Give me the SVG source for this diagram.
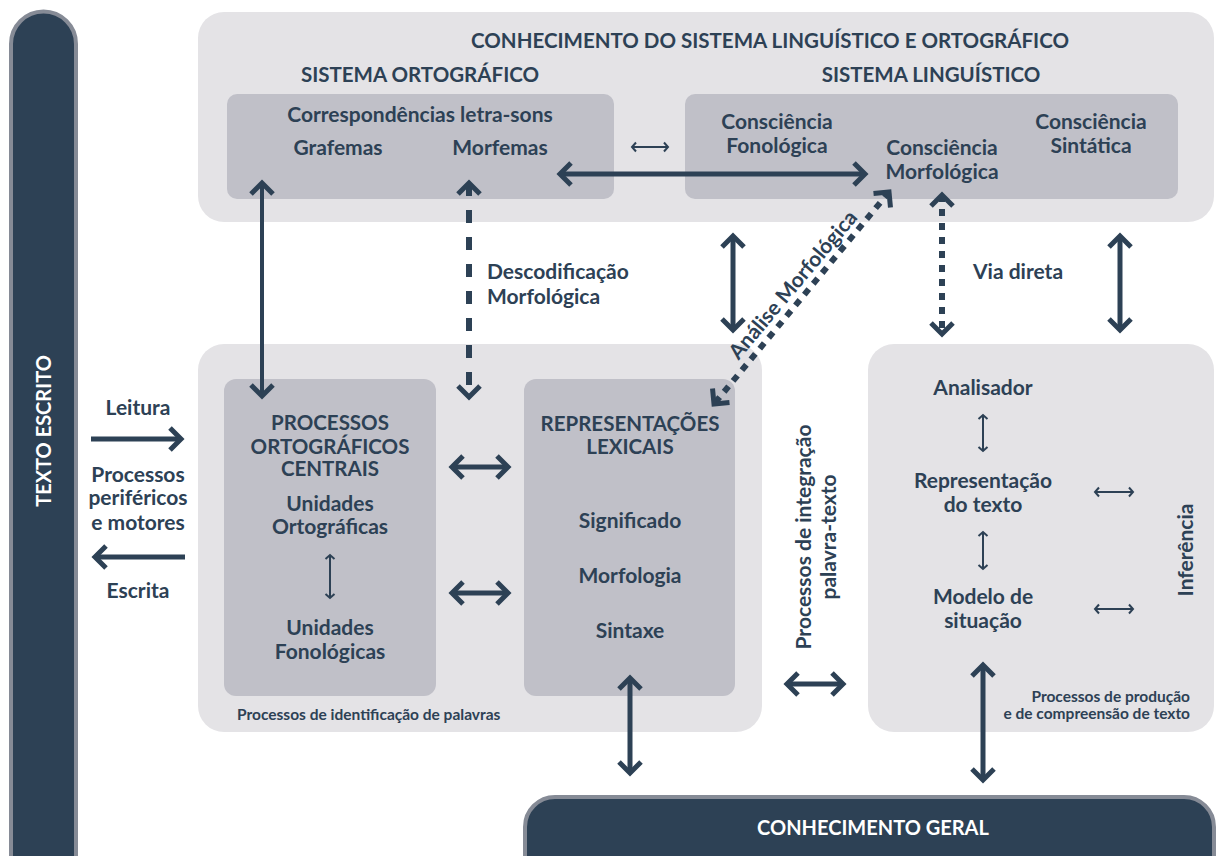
<svg xmlns="http://www.w3.org/2000/svg" width="1216" height="856" viewBox="0 0 1216 856">
<style>
text{font-family:Lato,"Open Sans","Liberation Sans",sans-serif;font-weight:700;fill:#2d4155;text-anchor:middle}
.t{font-size:21px}
.h{font-size:20.5px}
.s{font-size:15.5px}
.w{fill:#ffffff;font-size:20px}
.bg{fill:#e4e3e6}
.in{fill:#c0c0c8}
.dark{fill:#2d4155;stroke:#868b96;stroke-width:4}
.a5{fill:none;stroke:#2d4155;stroke-width:5;marker-start:url(#hb);marker-end:url(#hb)}
.a1{fill:none;stroke:#2d4155;stroke-width:5;marker-end:url(#hb)}
.a4{fill:none;stroke:#2d4155;stroke-width:4;marker-start:url(#hb);marker-end:url(#hb)}
.sm{fill:none;stroke:#2d4155;stroke-width:2;marker-start:url(#hs);marker-end:url(#hs)}
.dash{fill:none;stroke:#2d4155;stroke-width:6;stroke-dasharray:13 14;marker-start:url(#hb);marker-end:url(#hb)}
.dot{fill:none;stroke:#2d4155;stroke-width:6;stroke-dasharray:7 7;marker-start:url(#hb);marker-end:url(#hb)}
</style>
<defs>
<marker id="hb" viewBox="-16 -16 32 32" markerWidth="32" markerHeight="32" markerUnits="userSpaceOnUse" refX="0" refY="0" orient="auto-start-reverse">
<path d="M-11,-11 L0,0 L-11,11" fill="none" stroke="#2d4155" stroke-width="5"/>
</marker>
<marker id="hs" viewBox="-8 -8 16 16" markerWidth="16" markerHeight="16" markerUnits="userSpaceOnUse" refX="0" refY="0" orient="auto-start-reverse">
<path d="M-4,-4.5 L0,0 L-4,4.5" fill="none" stroke="#2d4155" stroke-width="2"/>
</marker>
</defs>

<g id="texto-escrito">
<path class="dark" d="M11,900 V44 A32.5,32.5 0 0 1 76,44 V900 Z"/>
<text class="w" transform="translate(51,431) rotate(-90)">TEXTO ESCRITO</text>
</g>

<g id="conhecimento-sistema">
<rect class="bg" x="198" y="12" width="1016" height="210" rx="26"/>
<text class="h" x="770" y="48">CONHECIMENTO DO SISTEMA LINGUÍSTICO E ORTOGRÁFICO</text>
<text class="h" x="420" y="82">SISTEMA ORTOGRÁFICO</text>
<text class="h" x="931" y="82">SISTEMA LINGUÍSTICO</text>
</g>

<g id="sistema-ortografico">
<rect class="in" x="227" y="94" width="387" height="105" rx="10"/>
<text class="t" x="420" y="122">Correspondências letra-sons</text>
<text class="t" x="338" y="155">Grafemas</text>
<text class="t" x="500" y="155">Morfemas</text>
</g>

<g id="sistema-linguistico">
<rect class="in" x="685" y="94" width="493" height="105" rx="10"/>
<text class="t" x="777" y="129">Consciência</text>
<text class="t" x="777" y="153">Fonológica</text>
<text class="t" x="942" y="155">Consciência</text>
<text class="t" x="942" y="179">Morfológica</text>
<text class="t" x="1091" y="129">Consciência</text>
<text class="t" x="1091" y="153">Sintática</text>
</g>

<g id="identificacao-palavras">
<rect class="bg" x="198" y="344" width="564" height="388" rx="26"/>
<text class="s" x="237" y="720" style="text-anchor:start">Processos de identificação de palavras</text>
</g>

<g id="processos-ortograficos">
<rect class="in" x="224" y="379" width="212" height="317" rx="12"/>
<text class="h" x="330" y="430">PROCESSOS</text>
<text class="h" x="330" y="454">ORTOGRÁFICOS</text>
<text class="h" x="330" y="476">CENTRAIS</text>
<text class="t" x="330" y="511">Unidades</text>
<text class="t" x="330" y="534">Ortográficas</text>
<text class="t" x="330" y="635">Unidades</text>
<text class="t" x="330" y="659">Fonológicas</text>
</g>

<g id="representacoes-lexicais">
<rect class="in" x="524" y="379" width="211" height="317" rx="12"/>
<text class="h" x="630" y="431">REPRESENTAÇÕES</text>
<text class="h" x="630" y="454">LEXICAIS</text>
<text class="t" x="630" y="528">Significado</text>
<text class="t" x="630" y="583">Morfologia</text>
<text class="t" x="630" y="638">Sintaxe</text>
</g>

<g id="producao-compreensao">
<rect class="bg" x="868" y="344" width="346" height="388" rx="26"/>
<text class="t" x="983" y="395">Analisador</text>
<text class="t" x="983" y="488">Representação</text>
<text class="t" x="983" y="512">do texto</text>
<text class="t" x="983" y="604">Modelo de</text>
<text class="t" x="983" y="628">situação</text>
<text class="t" transform="translate(1193,550) rotate(-90)">Inferência</text>
<text class="s" x="1190" y="702" style="text-anchor:end">Processos de produção</text>
<text class="s" x="1190" y="719" style="text-anchor:end">e de compreensão de texto</text>
</g>

<g id="conhecimento-geral">
<path class="dark" d="M525,900 V827 A30,30 0 0 1 555,797 H1184 A30,30 0 0 1 1214,827 V900 Z"/>
<text class="w" x="873" y="835">CONHECIMENTO GERAL</text>
</g>

<g id="labels">
<text class="t" x="138" y="415">Leitura</text>
<text class="t" x="138" y="482">Processos</text>
<text class="t" x="138" y="505">periféricos</text>
<text class="t" x="138" y="530">e motores</text>
<text class="t" x="138" y="598">Escrita</text>
<text class="t" x="487" y="279" style="text-anchor:start">Descodificação</text>
<text class="t" x="487" y="304" style="text-anchor:start">Morfológica</text>
<text class="t" x="973" y="279" style="text-anchor:start">Via direta</text>
<text class="t" transform="translate(793,285) rotate(-50)" dy="7">Análise Morfológica</text>
<text class="t" transform="translate(811,537) rotate(-90)">Processos de integração</text>
<text class="t" transform="translate(836,537) rotate(-90)">palavra-texto</text>
</g>

<g id="connectors">
<path class="sm" d="M632,147 H668"/>
<path class="a5" d="M560,174 H865"/>
<path class="a4" d="M262,183 V396"/>
<path class="dash" d="M469,183 V397"/>
<path class="a5" d="M733,236 V330"/>
<path class="dot" d="M889,192 L714,404"/>
<path class="dot" d="M942,195 V334"/>
<path class="a5" d="M1120,236 V330"/>
<path class="a1" d="M91,439 H181"/>
<path class="a1" d="M185,557 H95"/>
<path class="a5" d="M452,467 H508"/>
<path class="a5" d="M452,593 H508"/>
<path class="sm" d="M330,555 V598"/>
<path class="a5" d="M630,678 V773"/>
<path class="a5" d="M787,684 H843"/>
<path class="a5" d="M983,665 V780"/>
<path class="sm" d="M983,415 V451"/>
<path class="sm" d="M983,532 V569"/>
<path class="sm" d="M1095,492 H1133"/>
<path class="sm" d="M1095,609 H1133"/>
</g>
</svg>
